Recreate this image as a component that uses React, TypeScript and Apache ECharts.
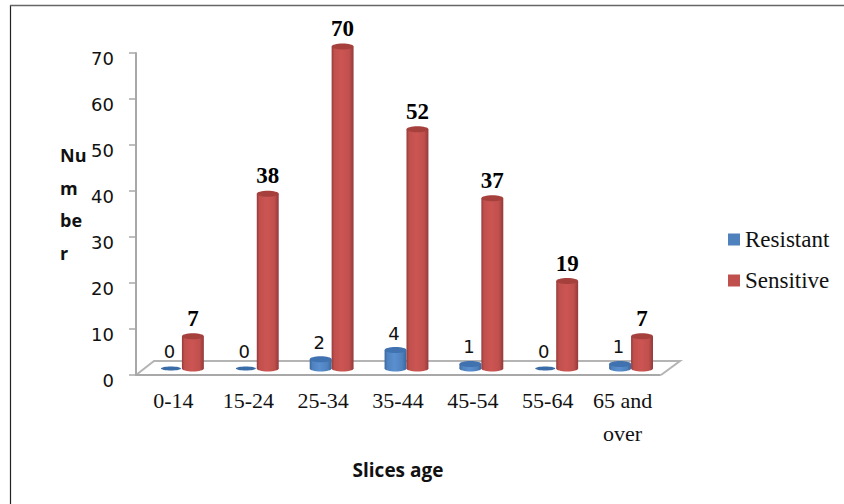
import React, { useEffect, useRef } from "react";
import * as echarts from "echarts";

const categories = ["0-14", "15-24", "25-34", "35-44", "45-54", "55-64", "65 and\nover"];
const resistant = [0, 0, 2, 4, 1, 0, 1];
const sensitive = [7, 38, 70, 52, 37, 19, 7];
const yTicks = { min: 0, max: 70, interval: 10 };
const yTitle = "Nu\nm\nbe\nr";

const SERIF = "'Liberation Serif', serif";
const SANS = "'DejaVu Sans', sans-serif";
const TITLE_SANS = "'Open Sans', sans-serif";
const AXIS_GREY = "#a8a8a8";

type Palette = { dark: string; mid: string; light: string; cap: string; flat: string };

const BLUE: Palette = { dark: "#37679f", mid: "#4f81bd", light: "#5a8fd0", cap: "#3f72ae", flat: "#3a6ca8" };
const RED: Palette = { dark: "#94393a", mid: "#c0504d", light: "#cc5552", cap: "#a5403d", flat: "#9c3a38" };

// Draws one series as cylinders standing on the raised chart floor.
function cylinder(palette: Palette, offsetRatio: number, labelStyle: any, labelGap: number) {
  return (_params: any, api: any) => {
    const category = api.value(0);
    const value = api.value(1);
    const band = api.size([1, 0])[0];
    const unit = api.size([0, 1])[1];
    const [cx0, y0] = api.coord([category, 0]);
    const width = band * 0.293;
    const cx = cx0 + band * offsetRatio;
    const left = cx - width / 2;
    const base = y0 - 6.5;
    const top = base - value * unit;
    const ry = 3;
    const children: any[] = [];

    if (value === 0) {
      children.push({
        type: "ellipse",
        shape: { cx, cy: base, rx: width / 2 - 1, ry: 2 },
        style: { fill: palette.flat },
      });
    } else {
      const body = new echarts.graphic.LinearGradient(0, 0, 1, 0, [
        { offset: 0, color: palette.dark },
        { offset: 0.12, color: palette.mid },
        { offset: 0.45, color: palette.light },
        { offset: 0.8, color: palette.mid },
        { offset: 1, color: palette.dark },
      ]);
      children.push(
        { type: "ellipse", shape: { cx, cy: base, rx: width / 2, ry }, style: { fill: body } },
        { type: "rect", shape: { x: left, y: top, width, height: base - top }, style: { fill: body } },
        { type: "ellipse", shape: { cx, cy: top, rx: width / 2, ry }, style: { fill: palette.cap } },
      );
    }
    children.push({
      type: "text",
      style: {
        x: cx + labelStyle.dx,
        y: top - labelGap,
        text: String(value),
        fontFamily: labelStyle.fontFamily,
        fontSize: labelStyle.fontSize,
        fontWeight: labelStyle.fontWeight,
        fill: labelStyle.fill,
        align: "center",
        verticalAlign: "middle",
      },
    });
    return { type: "group", children };
  };
}

export default function App() {
  const ref = useRef<HTMLDivElement>(null);

  useEffect(() => {
    const chart = echarts.init(ref.current!, undefined, { renderer: "svg" });
    chart.setOption({
      animation: false,
      backgroundColor: "#ffffff",
      color: [BLUE.mid, RED.mid],
      grid: { left: 136, top: 53, width: 524, height: 322, containLabel: false },
      legend: {
        orient: "vertical",
        left: 723,
        top: 223,
        itemWidth: 12,
        itemHeight: 12,
        itemGap: 18,
        icon: "rect",
        selectedMode: false,
        textStyle: { fontFamily: SERIF, fontSize: 23, color: "#111111" },
        data: ["Resistant", "Sensitive"],
      },
      xAxis: {
        type: "category",
        data: categories,
        name: "Slices age",
        nameLocation: "middle",
        nameGap: 85,
        nameTextStyle: { fontFamily: TITLE_SANS, fontSize: 19, fontWeight: "bold", color: "#111111" },
        axisLine: { lineStyle: { color: AXIS_GREY, width: 2 } },
        axisTick: { length: 8, lineStyle: { color: AXIS_GREY, width: 1.5 } },
        axisLabel: {
          fontFamily: SERIF,
          fontSize: 22,
          color: "#111111",
          margin: 9,
          lineHeight: 33,
          interval: 0,
        },
      },
      yAxis: {
        type: "value",
        min: yTicks.min,
        max: yTicks.max,
        interval: yTicks.interval,
        splitLine: { show: false },
        axisLine: { show: true, lineStyle: { color: AXIS_GREY, width: 2 } },
        axisTick: { show: true, length: 7, lineStyle: { color: AXIS_GREY, width: 1.5 } },
        axisLabel: {
          fontFamily: SANS,
          fontSize: 18,
          color: "#111111",
          margin: 22,
          verticalAlign: "top",
          lineHeight: 10,
        },
      },
      graphic: [
        // Frame: only the top and left edges fall inside the canvas.
        {
          type: "line",
          shape: { x1: 10.5, y1: 5, x2: 10.5, y2: 504 },
          style: { stroke: "#222222", lineWidth: 1.2 },
        },
        {
          type: "line",
          shape: { x1: 10, y1: 5.5, x2: 844, y2: 5.5 },
          style: { stroke: "#666666", lineWidth: 1.5 },
        },
        // Raised floor of the plot.
        {
          type: "polyline",
          shape: { points: [[136, 375], [154, 361], [680, 361], [661, 375]] },
          style: { stroke: "#b4b4b4", lineWidth: 2, fill: "none" },
        },
        // Value-axis title, wrapped the way it sits beside the tick labels.
        {
          type: "text",
          x: 60,
          y: 139,
          style: {
            text: yTitle,
            fontFamily: TITLE_SANS,
            fontSize: 18,
            fontWeight: "bold",
            fill: "#111111",
            lineHeight: 32.5,
            align: "left",
            verticalAlign: "top",
          },
        },
      ],
      series: [
        {
          name: "Resistant",
          type: "custom",
          renderItem: cylinder(
            BLUE,
            -0.033,
            { fontFamily: SANS, fontSize: 18, fontWeight: "normal", fill: "#111111", dx: -1.5 },
            17,
          ),
          data: resistant.map((v, i) => [i, v]),
          encode: { x: 0, y: 1 },
          itemStyle: { color: BLUE.mid },
          z: 3,
        },
        {
          name: "Sensitive",
          type: "custom",
          renderItem: cylinder(
            RED,
            0.26,
            { fontFamily: SERIF, fontSize: 23, fontWeight: "bold", fill: "#000000", dx: 0 },
            18,
          ),
          data: sensitive.map((v, i) => [i, v]),
          encode: { x: 0, y: 1 },
          itemStyle: { color: RED.mid },
          z: 4,
        },
      ],
    });
    return () => chart.dispose();
  }, []);

  return (
    <div
      ref={ref}
      style={{ position: "fixed", left: 0, top: 0, width: 844, height: 504 }}
    />
  );
}
